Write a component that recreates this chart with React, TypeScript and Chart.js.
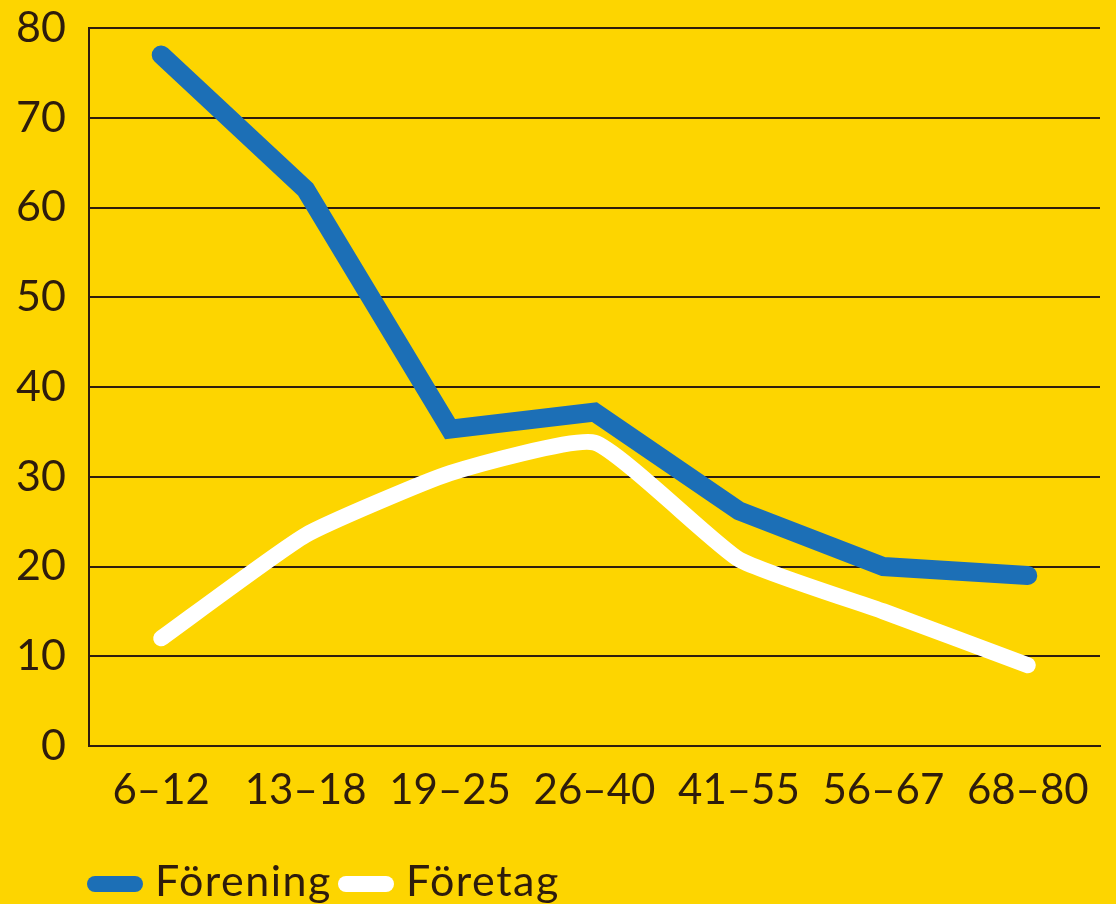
import React, { useEffect, useRef } from "react";
import { Chart, registerables } from "chart.js";

Chart.register(...registerables);

// Age groups along the x axis
const ageGroups = ["6–12", "13–18", "19–25", "26–40", "41–55", "56–67", "68–80"];

// Share (%) per age group
const foreningValues = [77, 62, 35.3, 37.2, 26.2, 20, 19];
const foretagValues = [12, 23.5, 30.4, 33.8, 20.8, 15, 9];

const seriesNames = ["Förening", "Företag"];
const seriesColors = ["#1c6fb6", "#ffffff"];

const yTicks = [0, 10, 20, 30, 40, 50, 60, 70, 80];

const BG = "#fdd500";
const INK = "#2e1c0c";
const FONT = "Lato, 'Open Sans', sans-serif";

export default function App() {
  const canvasRef = useRef<HTMLCanvasElement | null>(null);

  useEffect(() => {
    const ctx = canvasRef.current;
    if (!ctx) return;
    const chart = new Chart(ctx, {
      type: "line",
      data: {
        labels: ageGroups,
        datasets: [
          {
            label: seriesNames[0],
            data: foreningValues,
            borderColor: seriesColors[0],
            backgroundColor: seriesColors[0],
            borderWidth: 19,
            borderCapStyle: "round",
            borderJoinStyle: "miter",
            pointRadius: 0,
            tension: 0,
          },
          {
            label: seriesNames[1],
            data: foretagValues,
            borderColor: seriesColors[1],
            backgroundColor: seriesColors[1],
            borderWidth: 16,
            borderCapStyle: "round",
            borderJoinStyle: "round",
            pointRadius: 0,
            tension: 0.15,
          },
        ],
      },
      options: {
        animation: false,
        responsive: false,
        maintainAspectRatio: false,
        layout: { padding: { top: 28, right: 16, left: 0, bottom: 0 } },
        plugins: {
          legend: { display: false },
          tooltip: { enabled: false },
        },
        scales: {
          x: {
            offset: true,
            grid: { display: false, drawTicks: false },
            border: { display: true, color: INK, width: 2 },
            ticks: {
              color: INK,
              font: { family: FONT, size: 42 },
              padding: 19,
              maxRotation: 0,
              autoSkip: false,
            },
            afterFit: (scale: any) => {
              scale.height = 158;
            },
          },
          y: {
            min: 0,
            max: 80,
            afterBuildTicks: (scale: any) => {
              scale.ticks = yTicks.map((v) => ({ value: v }));
            },
            grid: { color: INK, lineWidth: 2, drawTicks: false },
            border: { display: true, color: INK, width: 2 },
            ticks: {
              color: INK,
              font: { family: FONT, size: 43 },
              padding: 23,
            },
            afterFit: (scale: any) => {
              scale.width = 89;
              scale.paddingTop = 0;
              scale.paddingBottom = 0;
            },
          },
        },
      },
    });
    return () => chart.destroy();
  }, []);

  return (
    <div
      style={{
        position: "fixed",
        left: 0,
        top: 0,
        width: 1116,
        height: 904,
        background: BG,
        overflow: "hidden",
      }}
    >
      <canvas ref={canvasRef} width={1116} height={904} style={{ display: "block" }} />
      <div
        style={{
          position: "absolute",
          left: 87,
          top: 851,
          display: "flex",
          alignItems: "center",
          fontFamily: FONT,
          fontSize: 43,
          letterSpacing: 1.5,
          color: INK,
          lineHeight: "58px",
          whiteSpace: "nowrap",
        }}
      >
        {seriesNames.map((name, i) => (
          <span key={name} style={{ display: "flex", alignItems: "center", marginRight: 6 }}>
            <span
              style={{
                display: "inline-block",
                width: 56,
                height: 16,
                borderRadius: 8,
                background: seriesColors[i],
                marginRight: 12,
                marginTop: 8,
              }}
            />
            <span>{name}</span>
          </span>
        ))}
      </div>
    </div>
  );
}
